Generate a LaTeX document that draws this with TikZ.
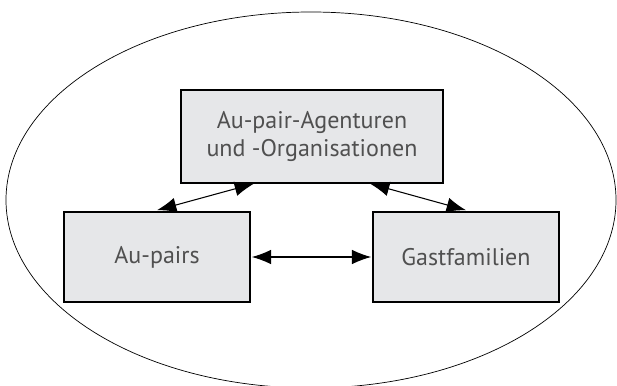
\documentclass[tikz,border=0pt]{standalone}
\usepackage{fontspec}
\setmainfont{PT Sans}
\usetikzlibrary{arrows.meta}
\definecolor{boxgray}{HTML}{E6E7E9}
\definecolor{textgray}{HTML}{505050}

\begin{document}
\begin{tikzpicture}[x=0.03cm,y=0.03cm]
	\tikzset{party/.style={draw, line width=1.1pt, fill=boxgray, text=textgray, font=\fontsize{20.5}{24.5}\selectfont, align=center, inner sep=0pt}}
	\tikzset{link/.style={line width=0.9pt, {Latex[length=5.8mm,width=4.4mm]}-{Latex[length=5.8mm,width=4.4mm]}}}

	\useasboundingbox (0,0) rectangle (617,385);

	% ellipse round the three parties
	\draw[line width=0.6pt] (311,185) ellipse [x radius=305, y radius=188];

	\node[party, minimum width=7.86cm, minimum height=2.79cm] (agent) at (312,248.5) {Au-pair-Agenturen\\und -Organisationen};
	\node[party, minimum width=5.58cm, minimum height=2.7cm] (aupair) at (157,128) {Au-pairs};
	\node[party, minimum width=5.58cm, minimum height=2.7cm] (gast) at (466,128) {Gastfamilien};

	\draw[link] ([xshift=-1.74cm]agent.south) -- ([yshift=1pt]aupair.north);
	\draw[link] ([xshift=1.74cm]agent.south) -- ([yshift=1pt]gast.north);
	\draw[link] ([xshift=1pt]aupair.east) -- ([xshift=-1pt]gast.west);
\end{tikzpicture}
\end{document}
